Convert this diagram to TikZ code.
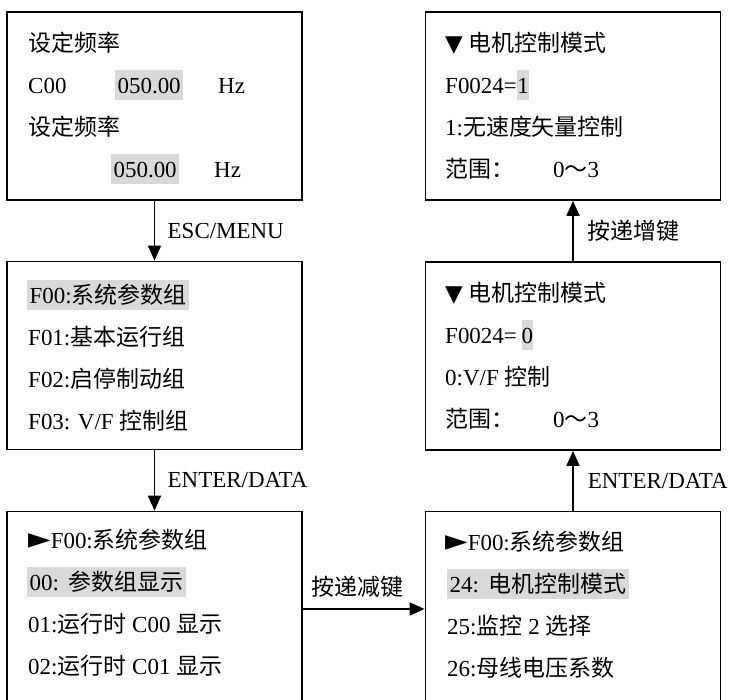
\documentclass[tikz,border=0pt]{standalone}
\usepackage{fontspec}
\setmainfont{Liberation Serif}
\newfontfamily\cjk{Noto Sans CJK SC}
\newfontfamily\sym{DejaVu Sans}
\usetikzlibrary{arrows.meta}
\newcommand{\zh}[1]{{\cjk #1}}
\newcommand{\ptr}{{\sym\fontsize{25}{25}\selectfont ►}}

\tikzset{
  panel/.style={draw, line width=1.5pt, minimum width=8.85cm, minimum height=5.64cm, inner sep=0pt},
  txt/.style={anchor=base west, inner sep=0pt, font=\fontsize{19.6}{23}\selectfont},
  hl/.style={txt, fill=black!15, inner xsep=2pt, text height=0.68cm, text depth=0.22cm},
  lbl/.style={inner sep=0pt, font=\fontsize{19.6}{23}\selectfont},
  arr/.style={line width=1.5pt, -{Triangle[length=0.45cm, width=0.39cm]}}
}

\begin{document}
\begin{tikzpicture}[x=0.03cm, y=-0.03cm]

    \useasboundingbox (0,0) rectangle (731,699);
    \clip (0,0) rectangle (731,699);

    % Pantallas (columna izquierda)
    \node[panel] (freq) at (154.5,106) {};
    \node[panel] (menu) at (154.5,355.5) {};
    \node[panel, minimum height=5.85cm] (grp) at (154.5,609) {};

    % Pantallas (columna derecha)
    \node[panel] (mode1) at (573,106) {};
    \node[panel] (mode0) at (573,356) {};
    \node[panel, minimum height=5.85cm] (sub) at (573,609) {};

    % Frecuencia
    \node[txt] (f1) at (28,51) {\zh{设定频率}};
    \node[txt] (f2) at (28,93) {C00};
    \node[hl] (f2v) at (115,93) {050.00};
    \node[txt] (f2u) at (218,93) {Hz};
    \node[txt] (f3) at (28,135) {\zh{设定频率}};
    \node[hl] (f4v) at (111,177) {050.00};
    \node[txt] (f4u) at (214,177) {Hz};

    % Menu de grupos
    \node[hl] (m1) at (27,303) {F00:\zh{系统参数组}};
    \node[txt] (m2) at (28,345) {F01:\zh{基本运行组}};
    \node[txt] (m3) at (28,387) {F02:\zh{启停制动组}};
    \node[txt] (m4) at (28,429) {F03: V/F \zh{控制组}};

    % Grupo F00
    \node[txt] (g1) at (28,548) {\ptr F00:\zh{系统参数组}};
    \node[hl] (g2) at (27,590) {00:\hspace{0.3cm}\zh{参数组显示}};
    \node[txt] (g3) at (28,632) {01:\zh{运行时} C00 \zh{显示}};
    \node[txt] (g4) at (28,674) {02:\zh{运行时} C01 \zh{显示}};

    % Grupo F00, parametro 24
    \node[txt] (s1) at (445,550) {\ptr F00:\zh{系统参数组}};
    \node[hl] (s2) at (447,592) {24:\hspace{0.3cm}\zh{电机控制模式}};
    \node[txt] (s3) at (447,634) {25:\zh{监控} 2 \zh{选择}};
    \node[txt] (s4) at (447,676) {26:\zh{母线电压系数}};

    % Modo de control = 0
    \node[txt] (e1) at (445,301) {{\sym ▼} \zh{电机控制模式}};
    \node[txt] (e2) at (445,343) {F0024=};
    \node[hl, inner xsep=0pt] (e2v) at ([xshift=0.13cm]e2.base east) {0};
    \node[txt] (e3) at (445,385) {0:V/F \zh{控制}};
    \node[txt] (e4) at (445,427) {\zh{范围：}\hspace{1.17cm}0\zh{～}3};

    % Modo de control = 1
    \node[txt] (t1) at (445,51) {{\sym ▼} \zh{电机控制模式}};
    \node[txt] (t2) at (445,93) {F0024=};
    \node[hl, inner xsep=0pt] (t2v) at (t2.base east) {1};
    \node[txt] (t3) at (445,135) {1:\zh{无速度矢量控制}};
    \node[txt] (t4) at (445,177) {\zh{范围：}\hspace{1.17cm}0\zh{～}3};

    % Flechas
    \draw[arr] (freq) -- node[lbl, right=0.37cm] {ESC/MENU} (menu);
    \draw[arr] (menu) -- node[lbl, right=0.37cm] {ENTER/DATA} (grp);
    \draw[arr] (grp) -- node[lbl, above=0.33cm, xshift=-0.18cm] {\zh{按递减键}} (sub);
    \draw[arr] (sub) -- node[lbl, right=0.42cm] {ENTER/DATA} (mode0);
    \draw[arr] (mode0) -- node[lbl, right=0.42cm] {\zh{按递增键}} (mode1);

\end{tikzpicture}
\end{document}
